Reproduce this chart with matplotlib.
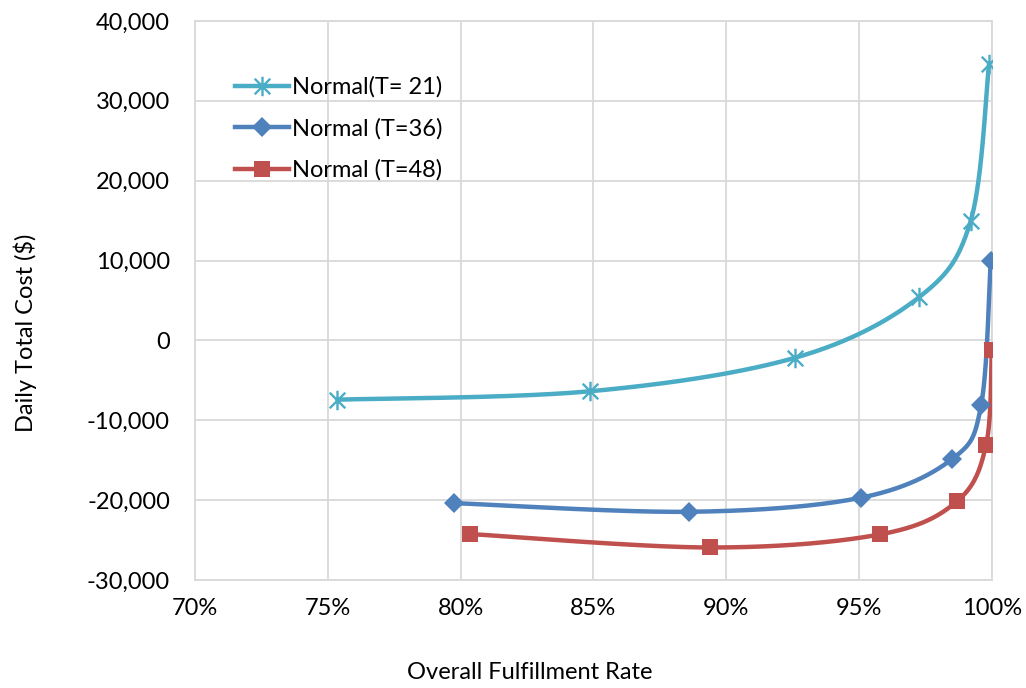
import numpy as np
import matplotlib
matplotlib.use("Agg")
import matplotlib.pyplot as plt
from matplotlib.path import Path
from matplotlib.ticker import FuncFormatter, MultipleLocator

plt.rcParams['font.family'] = ['Lato', 'DejaVu Sans']

# fulfillment rate (%) and daily total cost ($)
t21_rate = [75.36, 84.87, 92.60, 97.26, 99.21, 99.90]
t21_cost = [-7420, -6370, -2170, 5400, 15000, 34670]

t36_rate = [79.76, 88.62, 95.07, 98.52, 99.60, 99.96]
t36_cost = [-20375, -21460, -19700, -14830, -8125, 9900]

t48_rate = [80.37, 89.40, 95.80, 98.70, 99.79, 100.0]
t48_cost = [-24250, -25930, -24290, -20125, -13040, -1210]

labels = ['Normal(T= 21)', 'Normal (T=36)', 'Normal (T=48)']
colors = ['#4BACC6', '#4F81BD', '#C0504D']

# excel style star marker: x plus vertical bar
star = Path([(-1, -1), (1, 1), (-1, 1), (1, -1), (0, -1.25), (0, 1.25)],
            [Path.MOVETO, Path.LINETO, Path.MOVETO, Path.LINETO, Path.MOVETO, Path.LINETO])


def smooth(xs, ys, sx, sy, n=60):
    # catmull-rom style bezier through the points (done in display-like space)
    p = np.column_stack([np.asarray(xs) * sx, np.asarray(ys) * sy])
    out = [p[0]]
    for i in range(len(p) - 1):
        p0 = p[i - 1] if i > 0 else p[i]
        p3 = p[i + 2] if i + 2 < len(p) else p[i + 1]
        c1 = p[i] + (p[i + 1] - p0) / 6
        c2 = p[i + 1] - (p3 - p[i]) / 6
        t = np.linspace(0, 1, n)[1:, None]
        seg = ((1 - t) ** 3) * p[i] + 3 * ((1 - t) ** 2) * t * c1 + 3 * (1 - t) * t ** 2 * c2 + t ** 3 * p[i + 1]
        out.extend(seg)
    out = np.array(out)
    return out[:, 0] / sx, out[:, 1] / sy


fig = plt.figure(figsize=(10.26, 6.88), dpi=100)
ax = fig.add_axes([0.190, 0.157, 0.7766, 0.8125])

sx, sy = 796.5 / 30, 559 / 70000
series = [(t21_rate, t21_cost, star, 14, 1.7),
          (t36_rate, t36_cost, 'D', 10.5, 0),
          (t48_rate, t48_cost, 's', 12, 0)]
for (xs, ys, mk, ms, mew), lab, col in zip(series, labels, colors):
    cx, cy = smooth(xs, ys, sx, sy)
    ax.plot(cx, cy, color=col, lw=3.2, solid_capstyle='round', zorder=3)
    ax.plot(xs, ys, ls='none', marker=mk, ms=ms, mew=mew, color=col, mec=col, zorder=4)
    ax.plot([], [], color=col, lw=3.2, marker=mk, ms=ms, mew=mew, mec=col, label=lab)

ax.set_xlim(70, 100)
ax.set_ylim(-30000, 40000)
ax.xaxis.set_major_locator(MultipleLocator(5))
ax.yaxis.set_major_locator(MultipleLocator(10000))
ax.xaxis.set_major_formatter(FuncFormatter(lambda v, p: f"{v:.0f}%"))
ax.yaxis.set_major_formatter(FuncFormatter(lambda v, p: f"{v:,.0f}".replace('\u2212', '-')))
ax.grid(True, color='#D9D9D9', lw=1.3)
ax.set_axisbelow(True)
for s in ax.spines.values():
    s.set_color('#D9D9D9')
    s.set_linewidth(1.3)
ax.tick_params(length=0, labelsize=17, colors='black')
ax.tick_params(axis='x', pad=13)
ax.tick_params(axis='y', pad=18)

ax.set_xlabel('Overall Fulfillment Rate', fontsize=17, va='center', ha='center')
ax.set_ylabel('Daily Total Cost ($)', fontsize=17, va='center', ha='center')
ax.xaxis.set_label_coords(0.4206, -0.166)
ax.yaxis.set_label_coords(-0.213, 0.442)

ax.legend(loc='upper left', bbox_to_anchor=(0.035, 0.922), frameon=False, fontsize=17,
          handlelength=2.3, handletextpad=0.15, labelspacing=0.85, borderpad=0)

fig.savefig('out.png', dpi=100)
